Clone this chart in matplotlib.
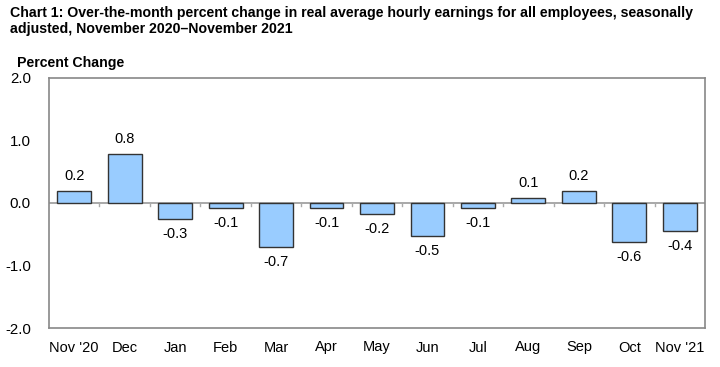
import matplotlib
matplotlib.use("Agg")
import matplotlib.pyplot as plt
import numpy as np

plt.rcParams['font.family'] = ['Liberation Sans', 'DejaVu Sans']

months = ["Nov '20", "Dec", "Jan", "Feb", "Mar", "Apr", "May", "Jun", "Jul",
          "Aug", "Sep", "Oct", "Nov '21"]
values = [0.18, 0.78, -0.265, -0.09, -0.71, -0.09, -0.18, -0.53, -0.09,
          0.08, 0.18, -0.63, -0.45]
labels = ["0.2", "0.8", "-0.3", "-0.1", "-0.7", "-0.1", "-0.2", "-0.5", "-0.1",
          "0.1", "0.2", "-0.6", "-0.4"]
yticks = [-2.0, -1.0, 0.0, 1.0, 2.0]

fig = plt.figure(figsize=(7.2, 3.67), dpi=100)
ax = fig.add_axes([49/720, 1 - 328/367, (705-49)/720, (328-77.5)/367])

x = np.arange(len(months))
ax.bar(x, values, width=0.67, color='#99CCFF', edgecolor='#333333',
       linewidth=1.0, zorder=3)
ax.axhline(0, color='#999999', linewidth=1.2, zorder=2)

# small separator ticks below zero line
for b in np.arange(0.5, len(months) - 1, 1.0):
    ax.plot([b, b], [0, -0.05], color='#aaaaaa', linewidth=1.0, zorder=2)

ax.set_xlim(-0.5, len(months) - 0.5)
ax.set_ylim(-2.0, 2.0)
ax.set_yticks(yticks)
ax.set_yticklabels([f"{t:.1f}" for t in yticks], fontsize=10.8)
ax.set_xticks(x)
ax.set_xticklabels(months, fontsize=10.5)
ax.tick_params(axis='both', length=0, colors='black')
ax.tick_params(axis='y', pad=13)
ax.tick_params(axis='x', pad=9)
for s in ax.spines.values():
    s.set_color('#888888')
    s.set_linewidth(1.2)

for xi, v, lab in zip(x, values, labels):
    if v >= 0:
        ax.annotate(lab, (xi, v), xytext=(0, 8), textcoords='offset pixels',
                    ha='center', va='bottom', fontsize=10.5)
    else:
        ax.annotate(lab, (xi, v), xytext=(0, -8), textcoords='offset pixels',
                    ha='center', va='top', fontsize=10.5)

fig.text(10/720, 1 - 6/367,
         "Chart 1: Over-the-month percent change in real average hourly earnings for all employees, seasonally\nadjusted, November 2020\u2013November 2021",
         ha='left', va='top', fontsize=10.2, fontweight='bold', linespacing=1.15)
fig.text(17/720, 1 - 67/367, "Percent Change", ha='left', va='baseline',
         fontsize=10.2, fontweight='bold')

fig.savefig("out.png", dpi=100)
